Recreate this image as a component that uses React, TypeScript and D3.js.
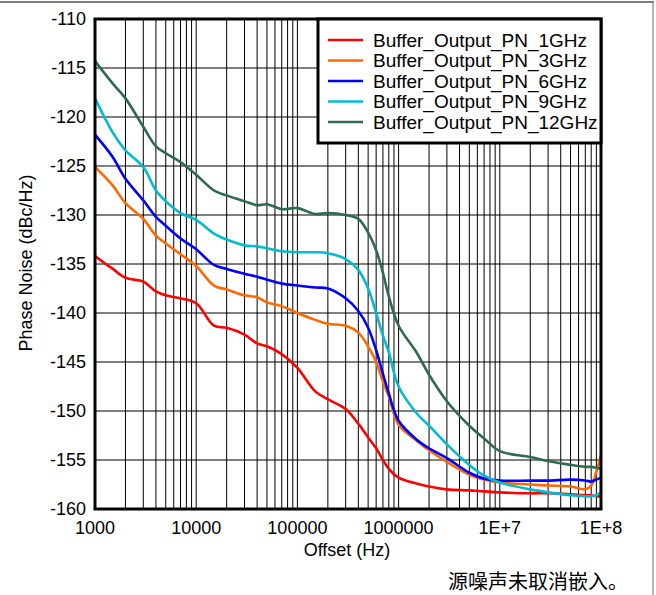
import React, { useEffect, useRef } from 'react';
import * as d3 from 'd3';

// offset frequencies (Hz) shared by all traces
const offsets = [
  1e3, 1.5e3, 2e3, 3e3, 4e3, 5e3, 7e3,
  1e4, 1.5e4, 2e4, 3e4, 4e4, 5e4, 7e4,
  1e5, 1.5e5, 2e5, 3e5, 4e5, 5e5, 6e5, 7e5, 8e5,
  1e6, 1.5e6, 2e6, 3e6, 5e6, 7e6,
  1e7, 2e7, 3e7, 5e7, 7e7, 8e7, 9e7, 1e8,
];

const pn1GHz = [
  -134.2, -135.5, -136.4, -136.8, -137.8, -138.2, -138.5,
  -139.0, -141.3, -141.5, -142.2, -143.1, -143.4, -144.2,
  -145.6, -148.0, -148.8, -149.8, -151.3, -152.7, -153.8, -155.0, -155.9,
  -156.8, -157.4, -157.7, -158.0, -158.1, -158.2,
  -158.3, -158.4, -158.4, -158.5, -158.6, -158.6, -158.7, -158.7,
];

const pn3GHz = [
  -125.1, -127.0, -128.8, -130.4, -132.1, -132.9, -134.0,
  -135.2, -137.2, -137.6, -138.2, -138.4, -138.9, -139.3,
  -140.0, -140.7, -141.1, -141.3, -142.0, -143.4, -145.0, -147.0, -148.5,
  -151.4, -153.0, -154.0, -155.2, -156.5, -157.0,
  -157.3, -157.5, -157.6, -157.7, -158.0, -157.6, -156.2, -154.5,
];

const pn6GHz = [
  -121.8, -124.1, -126.3, -128.5, -130.2, -131.1, -132.4,
  -133.5, -135.1, -135.5, -136.0, -136.3, -136.6, -137.0,
  -137.2, -137.4, -137.5, -138.5, -139.8, -141.5, -143.8, -146.2, -148.2,
  -151.0, -152.9, -153.8, -154.8, -156.3, -156.9,
  -157.1, -157.1, -157.1, -157.0, -157.1, -157.2, -157.0, -156.8,
];

const pn9GHz = [
  -118.1, -121.6, -123.4, -125.1, -127.5, -128.6, -129.8,
  -130.5, -131.9, -132.5, -133.1, -133.2, -133.4, -133.7,
  -133.8, -133.8, -133.9, -134.5, -135.6, -137.5, -140.0, -142.3, -144.0,
  -147.5, -150.2, -151.5, -153.4, -155.5, -156.6,
  -157.3, -158.0, -158.3, -158.6, -158.7, -158.7, -158.6, -158.3,
];

const pn12GHz = [
  -114.3, -116.6, -118.1, -121.0, -123.0, -123.7, -124.6,
  -125.9, -127.5, -128.0, -128.6, -129.0, -128.9, -129.4,
  -129.3, -129.9, -129.8, -130.0, -130.4, -131.8, -133.6, -135.9, -138.3,
  -141.3, -144.0, -146.3, -149.0, -151.5, -152.8,
  -154.1, -154.7, -155.1, -155.5, -155.7, -155.7, -155.8, -155.9,
];

const seriesNames = [
  'Buffer_Output_PN_1GHz',
  'Buffer_Output_PN_3GHz',
  'Buffer_Output_PN_6GHz',
  'Buffer_Output_PN_9GHz',
  'Buffer_Output_PN_12GHz',
];
const seriesValues = [pn1GHz, pn3GHz, pn6GHz, pn9GHz, pn12GHz];
const seriesColors = ['#ff0000', '#ff6a00', '#0000ff', '#00bcd0', '#2e6b4e'];

const yTicks = [-160, -155, -150, -145, -140, -135, -130, -125, -120, -115, -110];
const xTickLabels = ['1000', '10000', '100000', '1000000', '1E+7', '1E+8'];

const W = 656;
const H = 595;
const FONT = 'Arial, "Liberation Sans", sans-serif';

export default function App() {
  const svgRef = useRef(null);

  useEffect(() => {
    const svg = d3.select(svgRef.current);
    svg.selectAll('*').remove();

    const left = 95, right = 601, top = 19, bottom = 509;
    const x = d3.scaleLog().domain([1e3, 1e8]).range([left, right]);
    const y = d3.scaleLinear().domain([-160, -110]).range([bottom, top]);

    // outer frame (top + right edge)
    svg.append('line').attr('x1', 0).attr('x2', 654).attr('y1', 2).attr('y2', 2)
      .attr('stroke', '#000').attr('stroke-width', 1.2);
    svg.append('line').attr('x1', 653).attr('x2', 653).attr('y1', 2).attr('y2', H)
      .attr('stroke', '#888').attr('stroke-width', 1.2);

    // grid
    const grid = svg.append('g');
    grid.selectAll('line.v')
      .data(x.ticks())
      .enter().append('line')
      .attr('x1', d => x(d)).attr('x2', d => x(d))
      .attr('y1', top).attr('y2', bottom)
      .attr('stroke', '#000').attr('stroke-width', 1);
    grid.selectAll('line.h')
      .data(yTicks)
      .enter().append('line')
      .attr('x1', left).attr('x2', right)
      .attr('y1', d => y(d)).attr('y2', d => y(d))
      .attr('stroke', '#000').attr('stroke-width', 1);

    // curves
    svg.append('clipPath').attr('id', 'plotclip')
      .append('rect').attr('x', left).attr('y', top)
      .attr('width', right - left).attr('height', bottom - top);

    const line = d3.line()
      .x(d => x(d[0]))
      .y(d => y(d[1]))
      .curve(d3.curveCatmullRom.alpha(0.5));

    const curves = svg.append('g').attr('clip-path', 'url(#plotclip)');
    seriesValues.forEach((vals, i) => {
      curves.append('path')
        .attr('d', line(offsets.map((f, j) => [f, vals[j]])))
        .attr('fill', 'none')
        .attr('stroke', seriesColors[i])
        .attr('stroke-width', 2.6)
        .attr('stroke-linejoin', 'round');
    });

    // plot border
    svg.append('rect')
      .attr('x', left).attr('y', top)
      .attr('width', right - left).attr('height', bottom - top)
      .attr('fill', 'none').attr('stroke', '#000').attr('stroke-width', 3);

    // y tick labels
    svg.selectAll('text.ytick')
      .data(yTicks)
      .enter().append('text')
      .attr('x', 86).attr('y', d => y(d))
      .attr('dy', '0.35em')
      .attr('text-anchor', 'end')
      .style('font-family', FONT).style('font-size', '18px')
      .text(d => String(d));

    // x tick labels
    const decades = xTickLabels.map((_, i) => Math.pow(10, i + 3));
    svg.selectAll('text.xtick')
      .data(decades)
      .enter().append('text')
      .attr('x', d => x(d)).attr('y', 528)
      .attr('dy', '0.35em')
      .attr('text-anchor', 'middle')
      .style('font-family', FONT).style('font-size', '18px')
      .text((d, i) => xTickLabels[i]);

    // axis titles
    svg.append('text')
      .attr('x', 347).attr('y', 550).attr('dy', '0.35em')
      .attr('text-anchor', 'middle')
      .style('font-family', FONT).style('font-size', '18px')
      .text('Offset (Hz)');
    svg.append('text')
      .attr('transform', 'translate(26,263) rotate(-90)')
      .attr('dy', '0.35em')
      .attr('text-anchor', 'middle')
      .style('font-family', FONT).style('font-size', '18px')
      .text('Phase Noise (dBc/Hz)');

    // legend
    const lg = svg.append('g');
    lg.append('rect')
      .attr('x', 318).attr('y', top)
      .attr('width', right - 318).attr('height', 124)
      .attr('fill', '#fff').attr('stroke', '#000').attr('stroke-width', 3);
    seriesNames.forEach((name, i) => {
      const ly = 40 + i * 20.5;
      lg.append('line')
        .attr('x1', 328).attr('x2', 363).attr('y1', ly).attr('y2', ly)
        .attr('stroke', seriesColors[i]).attr('stroke-width', 2.6);
      lg.append('text')
        .attr('x', 373).attr('y', ly).attr('dy', '0.35em')
        .style('font-family', FONT).style('font-size', '19px')
        .text(name);
    });

    // footer note
    svg.append('text')
      .attr('x', 448).attr('y', 582).attr('dy', '0.35em')
      .style('font-family', '"Noto Sans CJK SC", sans-serif').style('font-size', '20px')
      .text('源噪声未取消嵌入。');
  }, []);

  return (
    <svg
      ref={svgRef}
      width={W}
      height={H}
      style={{ position: 'absolute', left: 0, top: 0, display: 'block', background: '#fff' }}
    />
  );
}
